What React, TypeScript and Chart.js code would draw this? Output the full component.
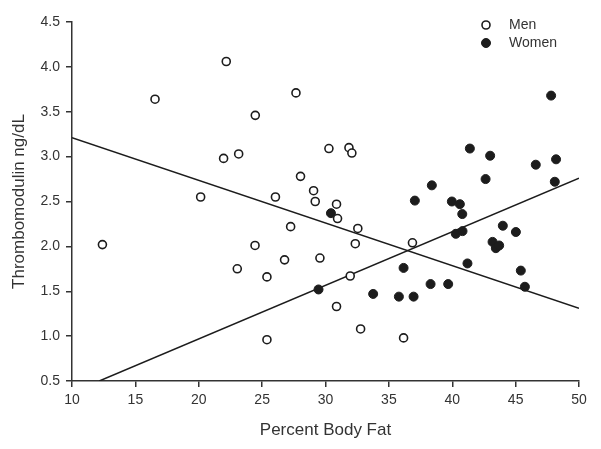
import React, { useEffect, useRef } from "react";
import { Chart, registerables } from "chart.js";

Chart.register(...registerables);

const menBodyFat = [12.4, 16.55, 20.15, 21.96, 22.17, 23.15, 23.04, 24.46, 24.44, 25.38, 25.38, 26.05, 26.77, 27.25, 27.67, 28.03, 29.06, 29.19, 29.56, 30.27, 30.87, 30.95, 30.87, 31.85, 32.08, 31.95, 32.35, 32.55, 32.77, 36.16, 36.86];
const menTM = [2.02, 3.64, 2.55, 2.98, 4.06, 3.03, 1.75, 3.46, 2.01, 1.66, 0.96, 2.55, 1.85, 2.22, 3.71, 2.78, 2.62, 2.5, 1.87, 3.09, 2.47, 2.31, 1.33, 3.1, 3.04, 1.67, 2.03, 2.2, 1.08, 0.98, 2.04];

const womenBodyFat = [29.45, 30.43, 33.76, 35.79, 36.16, 36.95, 37.05, 38.29, 38.39, 39.68, 39.97, 40.28, 40.6, 40.79, 40.81, 41.2, 41.39, 42.63, 42.99, 43.18, 43.44, 43.7, 43.99, 45.02, 45.41, 45.73, 46.59, 47.8, 48.09, 48.19];
const womenTM = [1.52, 2.37, 1.47, 1.44, 1.76, 1.44, 2.51, 1.58, 2.68, 1.58, 2.5, 2.14, 2.47, 2.36, 2.17, 1.81, 3.09, 2.75, 3.01, 2.05, 1.98, 2.01, 2.23, 2.16, 1.73, 1.55, 2.91, 3.68, 2.72, 2.97];

const menFitX = [10, 50];
const menFitY = [3.21, 1.31];
const womenFitX = [12.15, 50];
const womenFitY = [0.5, 2.76];

const xTickRange = [10, 50, 5];
const yTickRange = [0.5, 4.5, 0.5];

const seriesLabels = ["Men", "Women"];
const xTitle = "Percent Body Fat";
const yTitle = "Thrombomodulin ng/dL";

const FONT = "'Liberation Sans', Arial, Helvetica, sans-serif";
const INK = "#1c1c1c";
const AXIS = "#333333";

const toPoints = (xs: number[], ys: number[]) => xs.map((x, i) => ({ x, y: ys[i] }));

const legendPlugin = {
  id: "customLegend",
  afterDraw(chart: any) {
    const ctx = chart.ctx;
    const items = [
      { label: seriesLabels[0], fill: "#ffffff", y: 25 },
      { label: seriesLabels[1], fill: INK, y: 43 },
    ];
    ctx.save();
    items.forEach((it) => {
      ctx.beginPath();
      ctx.arc(486, it.y, it.fill === INK ? 4.5 : 4, 0, Math.PI * 2);
      ctx.fillStyle = it.fill;
      ctx.fill();
      ctx.lineWidth = it.fill === INK ? 1 : 1.6;
      ctx.strokeStyle = INK;
      ctx.stroke();
      ctx.fillStyle = AXIS;
      ctx.font = `14px ${FONT}`;
      ctx.textAlign = "left";
      ctx.textBaseline = "middle";
      ctx.fillText(it.label, 509, it.y + 0.5);
    });
    ctx.restore();
  },
};

export default function App() {
  const ref = useRef<HTMLCanvasElement | null>(null);

  useEffect(() => {
    if (!ref.current) return;
    const chart = new Chart(ref.current, {
      type: "scatter",
      data: {
        datasets: [
          {
            label: seriesLabels[0],
            data: toPoints(menBodyFat, menTM),
            pointRadius: 4,
            pointBorderWidth: 1.6,
            pointBackgroundColor: "#ffffff",
            pointBorderColor: INK,
          },
          {
            label: seriesLabels[1],
            data: toPoints(womenBodyFat, womenTM),
            pointRadius: 4.5,
            pointBorderWidth: 1,
            pointBackgroundColor: INK,
            pointBorderColor: INK,
          },
          {
            type: "line",
            label: "Men fit",
            data: toPoints(menFitX, menFitY),
            borderColor: INK,
            borderWidth: 1.5,
            pointRadius: 0,
            showLine: true,
            fill: false,
          } as any,
          {
            type: "line",
            label: "Women fit",
            data: toPoints(womenFitX, womenFitY),
            borderColor: INK,
            borderWidth: 1.5,
            pointRadius: 0,
            showLine: true,
            fill: false,
          } as any,
        ],
      },
      options: {
        animation: false,
        responsive: false,
        devicePixelRatio: 1,
        layout: { padding: { top: 22, right: 22, left: 0, bottom: 0 } },
        plugins: {
          legend: { display: false },
          tooltip: { enabled: false },
        },
        scales: {
          x: {
            type: "linear",
            min: xTickRange[0],
            max: xTickRange[1],
            afterFit: (s: any) => {
              s.height = 68;
            },
            ticks: {
              stepSize: xTickRange[2],
              padding: 5,
              color: AXIS,
              font: { family: FONT, size: 14 },
              maxRotation: 0,
            },
            grid: {
              display: true,
              drawOnChartArea: false,
              drawTicks: true,
              tickLength: 6,
              color: AXIS,
              lineWidth: 1.5,
            },
            border: { display: true, color: AXIS, width: 1.5 },
            title: {
              display: true,
              text: xTitle,
              color: AXIS,
              font: { family: FONT, size: 17 },
              padding: { top: 0, bottom: 8 },
            },
          },
          y: {
            type: "linear",
            min: yTickRange[0],
            max: yTickRange[1],
            afterFit: (s: any) => {
              s.width = 72;
            },
            ticks: {
              stepSize: yTickRange[2],
              padding: 6,
              color: AXIS,
              font: { family: FONT, size: 14 },
              callback: (v: any) => Number(v).toFixed(1),
            },
            grid: {
              display: true,
              drawOnChartArea: false,
              drawTicks: true,
              tickLength: 6,
              color: AXIS,
              lineWidth: 1.5,
            },
            border: { display: true, color: AXIS, width: 1.5 },
            title: {
              display: true,
              text: yTitle,
              color: AXIS,
              font: { family: FONT, size: 17 },
              padding: { top: 9, bottom: 0 },
            },
          },
        },
      },
      plugins: [legendPlugin],
    });
    return () => chart.destroy();
  }, []);

  return (
    <div style={{ position: "fixed", left: 0, top: 0, width: 601, height: 449, background: "#ffffff" }}>
      <canvas ref={ref} width={601} height={449} style={{ width: 601, height: 449, display: "block" }} />
    </div>
  );
}
